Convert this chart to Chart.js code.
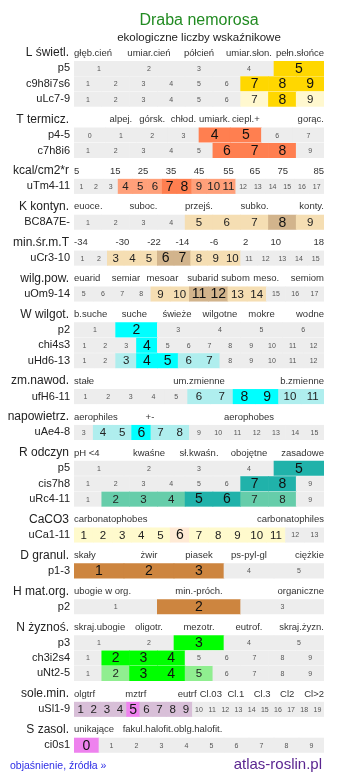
<!DOCTYPE html>
<html lang="pl">
<head>
<meta charset="utf-8">
<title>Draba nemorosa – ekologiczne liczby wskaźnikowe</title>
<script src="https://cdn.jsdelivr.net/npm/chart.js@4.4.1/dist/chart.umd.min.js"></script>
<style>
  html, body { margin: 0; padding: 0; background: #fff; }
  #wrap { width: 337px; height: 781px; }
</style>
</head>
<body>
<div id="wrap"><canvas id="chart" width="337" height="781"></canvas></div>
<script>
// Grupy wskaźników (tytuł grupy i liczba wierszy w grupie)
const groupTitles = ["L świetl.", "T termicz.", "kcal/cm2*r", "K kontyn.", "min.śr.m.T", "wilg.pow.",
  "W wilgot.", "zm.nawod.", "napowietrz.", "R odczyn", "CaCO3", "D granul.", "H mat.org.",
  "N żyznoś.", "sole.min.", "S zasol."];
const groupRowCounts = [3, 2, 1, 1, 1, 1, 3, 1, 1, 3, 1, 1, 1, 3, 1, 1];

// Opisy skali nad wierszami
const headerTicks = [
  ["głęb.cień", "umiar.cień", "półcień", "umiar.słon.", "pełn.słońce"],
  ["alpej.", "górsk.", "chłod.", "umiark.", "ciepl.+", "gorąc."],
  ["5", "15", "25", "35", "45", "55", "65", "75", "85"],
  ["euoce.", "suboc.", "przejś.", "subko.", "konty."],
  ["-34", "-30", "-22", "-14", "-6", "2", "10", "18"],
  ["euarid", "semiar", "mesoar", "subarid", "subom", "meso.", "semiom"],
  ["b.suche", "suche", "świeże", "wilgotne", "mokre", "wodne"],
  ["stałe", "um.zmienne", "b.zmienne"],
  ["aerophiles", "+-", "aerophobes"],
  ["pH <4", "kwaśne", "sł.kwaśn.", "obojętne", "zasadowe"],
  ["carbonatophobes", "carbonatophiles"],
  ["skały", "żwir", "piasek", "ps-pyl-gl", "ciężkie"],
  ["ubogie w org.", "min.-próch.", "organiczne"],
  ["skraj.ubogie", "oligotr.", "mezotr.", "eutrof.", "skraj.żyzn."],
  ["olgtrf", "mztrf", "eutrf", "Cl.03", "Cl.1", "Cl.3", "Cl2", "Cl>2"],
  ["unikające", "fakul.halofit.", "oblg.halofit."],
];
// wartość na skali pierwszego wiersza grupy, nad którą stoi opis
// (skrajne opisy dosuwane są do krawędzi tabeli)
const headerAt = [
  [0, 2, 3, 4, 6],
  [1, 2, 3, 4, 5, 8],
  [0.5, 3.3, 5.2, 7.1, 9, 11, 12.8, 14.7, 18],
  [0, 3, 5, 7, 10],
  [0, 3.4, 5.3, 7, 8.9, 10.8, 12.6, 16],
  [4, 7.2, 9.1, 11.2, 12.9, 14.5, 18],
  [0, 1.95, 2.97, 4, 5, 7],
  [0, 6, 12],
  [2, 6.45, 11.6],
  [0, 2, 3, 4, 6],
  [0, 14],
  [0, 2, 3, 4, 6],
  [0, 2, 4],
  [0, 2, 3, 4, 6],
  [0, 5.2, 9.1, 10.9, 12.8, 14.8, 16.7, 20],
  [-1, 2.46, 4.46],
];

// Wiersze: nazwa źródła, zakres skali, komórki wyróżnione mocno / słabo
const rowLabels = ["p5", "c9h8i7s6", "uLc7-9", "p4-5", "c7h8i6", "uTm4-11", "BC8A7E-", "uCr3-10",
  "uOm9-14", "p2", "chi4s3", "uHd6-13", "ufH6-11", "uAe4-8", "p5", "cis7h8", "uRc4-11", "uCa1-11",
  "p1-3", "p2", "p3", "ch3i2s4", "uNt2-5", "uSl1-9", "ci0s1"];
const rowFrom = [1, 1, 1, 0, 1, 1, 1, 1, 5, 1, 1, 1, 1, 3, 1, 1, 1, 1, 1, 1, 1, 1, 1, 1, 0];
const rowTo = [5, 9, 9, 7, 9, 17, 9, 15, 17, 6, 12, 12, 11, 15, 5, 9, 9, 13, 5, 3, 5, 9, 9, 19, 9];
const strongCells = [[5], [7, 8, 9], [8], [4, 5], [6, 7, 8], [7, 8], [8], [6, 7], [11, 12], [2], [4],
  [4, 5], [8, 9], [6], [5], [7, 8], [5, 6], [6], [1, 2, 3], [2], [3], [2, 3, 4], [3, 4], [5], [0]];
const lightCells = [[], [], [7, 9], [], [], [4, 5, 6, 9, 10, 11], [5, 6, 7, 9], [3, 4, 5, 8, 9, 10],
  [9, 10, 13, 14], [], [], [3, 6, 7], [6, 7, 10, 11], [4, 5, 7, 8], [], [], [2, 3, 4, 7, 8],
  [1, 2, 3, 4, 5, 7, 8, 9, 10, 11], [], [], [], [], [2, 5], [1, 2, 3, 4, 6, 7, 8, 9], []];

// kolory grup: [mocne, słabe]
const groupColors = [
  ["#FFD700", "#FFF8CF"], ["#FF7F50", "#FFA07A"], ["#FF7F50", "#FFA07A"],
  ["#D2B48C", "#F5DEB3"], ["#D2B48C", "#F5DEB3"], ["#D2B48C", "#F5DEB3"],
  ["#00FFFF", "#AFEEEE"], ["#00FFFF", "#AFEEEE"], ["#00FFFF", "#AFEEEE"],
  ["#20B2AA", "#66CDAA"], ["#FFEAD5", "#FFFACD"], ["#CD853F", "#CD853F"],
  ["#CD853F", "#CD853F"], ["#00FF00", "#90EE90"], ["#EE82EE", "#D8BFD8"],
  ["#EE82EE", "#D8BFD8"],
];
const EMPTY = "#EDEDED";
const FONT = '"Liberation Sans", Arial, sans-serif';
const GROUP_GAP = 1.33;

// pozycje pionowe (w jednostkach wiersza)
const headingPos = [];
const rowPos = [];
const rowGroup = [];
const firstRowOfGroup = [];
let cursor = 0;
groupRowCounts.forEach((n, g) => {
  if (g > 0) cursor += GROUP_GAP;
  headingPos.push(cursor);
  firstRowOfGroup.push(rowPos.length);
  for (let i = 0; i < n; i++) {
    cursor += 1;
    rowPos.push(cursor);
    rowGroup.push(g);
  }
});

// komórki jako słupki pływające
const cells = [];
rowLabels.forEach((label, r) => {
  const span = rowTo[r] - rowFrom[r] + 1;
  for (let v = rowFrom[r]; v <= rowTo[r]; v++) {
    const k = v - rowFrom[r];
    let level = 0;
    if (strongCells[r].includes(v)) level = 2;
    else if (lightCells[r].includes(v)) level = 1;
    cells.push({ x: [k / span, (k + 1) / span], y: rowPos[r], value: v, level: level, group: rowGroup[r] });
  }
});

function cellColor(c) {
  if (!c || c.level === 0) return EMPTY;
  return groupColors[c.group][c.level === 2 ? 0 : 1];
}

// napisy: tytuły grup, opisy skali, nazwy wierszy, liczby w komórkach, stopka
const textPlugin = {
  id: "tableText",
  afterDatasetsDraw(chart) {
    const ctx = chart.ctx;
    const xs = chart.scales.x;
    const ys = chart.scales.y;
    const left = chart.chartArea.left;
    const right = chart.chartArea.right;
    ctx.save();
    ctx.textBaseline = "middle";

    groupTitles.forEach((title, g) => {
      const y = ys.getPixelForValue(headingPos[g]);
      ctx.font = "12px " + FONT;
      ctx.fillStyle = "#222";
      ctx.textAlign = "right";
      ctx.fillText(title, 69, y);

      const r0 = firstRowOfGroup[g];
      const span = rowTo[r0] - rowFrom[r0] + 1;
      ctx.font = "9.5px " + FONT;
      ctx.fillStyle = "#333";
      ctx.textAlign = "left";
      headerTicks[g].forEach((t, i) => {
        const cx = xs.getPixelForValue((headerAt[g][i] - rowFrom[r0] + 0.5) / span);
        const w = ctx.measureText(t).width;
        const lx = Math.max(left, Math.min(cx - w / 2, right - w));
        ctx.fillText(t, lx, y);
      });
    });

    ctx.font = "11px " + FONT;
    ctx.fillStyle = "#222";
    ctx.textAlign = "right";
    rowLabels.forEach((label, r) => {
      ctx.fillText(label, 70, ys.getPixelForValue(rowPos[r]));
    });

    const meta = chart.getDatasetMeta(0);
    ctx.textAlign = "center";
    meta.data.forEach((bar, i) => {
      const c = cells[i];
      const p = bar.getProps(["x", "y", "base"], true);
      if (c.level === 2) {
        ctx.font = "14px " + FONT;
        ctx.fillStyle = "#111";
      } else if (c.level === 1) {
        ctx.font = "11.5px " + FONT;
        ctx.fillStyle = "#222";
      } else {
        ctx.font = "7px " + FONT;
        ctx.fillStyle = "#555";
      }
      ctx.fillText(String(c.value), (p.x + p.base) / 2, p.y + 0.5);
    });

    // stopka
    ctx.textAlign = "left";
    ctx.font = "10.5px " + FONT;
    ctx.fillStyle = "#2E2EE6";
    ctx.fillText("objaśnienie, źródła »", 10, 766);
    ctx.textAlign = "right";
    ctx.font = "15px " + FONT;
    ctx.fillStyle = "#5A2590";
    ctx.fillText("atlas-roslin.pl", 322, 765);
    ctx.restore();
  },
};

const chart = new Chart(document.getElementById("chart"), {
  type: "bar",
  data: {
    datasets: [
      {
        data: cells,
        backgroundColor: (ctx) => cellColor(ctx.raw),
        borderWidth: 0,
        barThickness: 14.4,
      },
    ],
  },
  options: {
    indexAxis: "y",
    responsive: false,
    animation: false,
    devicePixelRatio: 1,
    layout: { padding: { left: 74, right: 13, top: 0, bottom: 25 } },
    scales: {
      x: { type: "linear", min: 0, max: 1, display: false },
      y: { type: "linear", min: -0.52, max: 45.65, reverse: true, offset: false, display: false },
    },
    plugins: {
      legend: { display: false },
      tooltip: { enabled: false },
      title: {
        display: true,
        text: "Draba nemorosa",
        color: "#228B22",
        font: { family: FONT, size: 16, weight: "normal" },
        padding: { top: 10.5, bottom: 1 },
      },
      subtitle: {
        display: true,
        text: "ekologiczne liczby wskaźnikowe",
        color: "#222",
        font: { family: FONT, size: 11.5, weight: "normal" },
        padding: { top: 0.5, bottom: 0 },
      },
    },
  },
  plugins: [textPlugin],
});
</script>
</body>
</html>
